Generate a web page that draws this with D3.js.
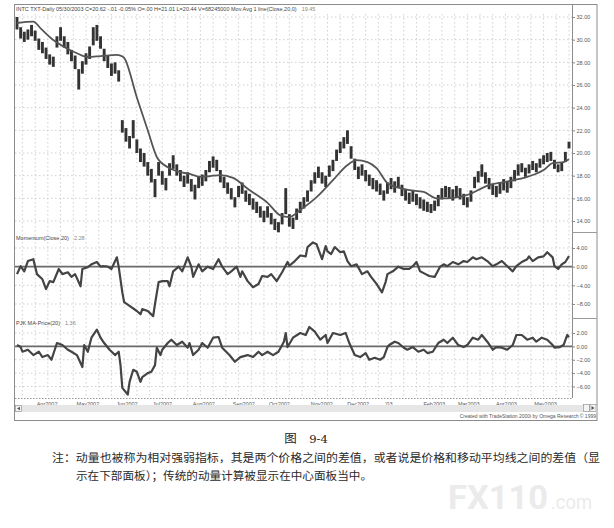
<!DOCTYPE html>
<html>
<head>
<meta charset="utf-8">
<title>INTC Momentum</title>
<script src="https://d3js.org/d3.v7.min.js"></script>
<style>
  body { margin: 0; background: #fff; }
  svg { display: block; }
</style>
</head>
<body>
<div id="chart"></div>
<script>
// daily bars, one every 2 trading days (day 0 = mid March 2002, last = 05/30/2003)
const barHigh = [
  32.0,31.1,30.7,30.9,31.3,30.8,30.1,29.8,29.3,28.7,
  28.5,30.3,31.1,30.3,29.8,29.1,28.6,27.4,28.1,28.8,
  29.4,31.1,31.3,30.3,29.2,28.6,27.9,28.0,27.3,22.9,
  22.2,21.5,22.9,21.2,20.4,20.0,19.2,18.6,17.7,19.2,
  18.4,17.8,19.1,19.8,19.0,18.5,18.0,18.3,17.7,17.2,
  17.9,18.1,18.5,19.3,19.7,19.4,18.5,17.9,17.4,
  16.9,16.1,17.1,17.4,16.7,16.4,16.0,15.7,15.3,14.9,
  15.3,14.7,14.2,13.9,14.7,16.9,14.6,14.3,15.1,15.7,
  16.1,16.7,17.6,18.3,18.8,18.3,18.0,18.9,19.4,20.3,
  21.0,21.4,22.0,20.6,19.5,18.8,19.0,18.5,18.1,17.8,
  17.6,17.3,16.7,17.4,17.8,17.5,17.9,17.2,16.8,
  16.5,16.7,16.4,16.1,15.9,15.7,15.5,15.8,16.3,16.9,
  17.1,17.0,16.8,17.1,16.9,16.4,16.1,16.7,17.9,18.4,
  19.0,18.3,17.8,17.3,17.1,17.4,17.7,17.5,17.9,18.5,
  19.0,19.1,18.7,19.0,19.3,19.1,19.5,19.8,20.0,20.1,
  19.4,19.0,19.2,20.1,21.0
];
const barLow = [
  30.9,30.1,29.8,30.0,30.3,29.9,29.1,28.8,28.3,27.8,
  27.6,29.3,29.9,29.3,28.7,28.1,27.4,25.6,27.0,27.8,
  28.3,29.5,29.9,29.2,28.1,27.5,26.8,27.0,26.3,21.8,
  21.0,20.4,21.3,20.0,19.2,18.8,18.0,17.4,16.1,18.0,
  17.2,16.7,18.0,18.6,18.0,17.5,17.0,17.3,16.6,15.9,
  16.9,17.1,17.5,18.3,18.7,18.4,17.4,16.9,16.4,
  15.9,15.2,16.1,16.4,15.7,15.4,15.0,14.7,14.3,13.9,
  14.3,13.7,13.2,13.0,13.7,14.6,13.5,13.3,14.1,14.7,
  15.1,15.7,16.6,17.3,17.8,17.3,17.0,17.9,18.4,19.3,
  20.0,20.4,20.8,19.5,18.5,17.7,18.0,17.5,17.1,16.8,
  16.6,16.3,15.8,16.4,16.8,16.5,16.9,16.2,15.8,
  15.5,15.7,15.4,15.1,14.9,14.8,14.7,14.9,15.3,15.9,
  16.1,16.0,15.8,16.1,15.9,15.4,15.2,15.7,16.9,17.4,
  17.9,17.3,16.8,16.3,16.1,16.4,16.7,16.5,16.9,17.5,
  18.0,18.3,17.9,18.2,18.5,18.3,18.7,19.0,19.2,19.3,
  18.6,18.3,18.4,19.2,20.4
];

// Mov Avg 1 line(Close,20,0) : [day, value]
const movAvg = [
  [0,31.47],[9,31.6],[13,31.0],[20,29.97],[26,29.35],[33,28.8],[39,28.47],[46,28.55],
  [55,28.65],[57,28.6],[59,28.4],[66,24.9],[72,22.0],[77,19.65],[83,18.75],[88,18.4],
  [95,18.15],[101,17.9],[106,17.95],[112,18.05],[119,17.8],[128,16.73],[138,15.6],
  [145,14.5],[150,14.35],[156,14.97],[165,16.1],[174,17.6],[182,18.94],[187,19.38],
  [193,19.2],[198,18.67],[204,17.35],[211,16.9],[216,16.73],[224,16.56],[231,16.0],
  [237,16.0],[248,16.3],[260,17.17],[268,17.44],[279,17.8],[290,18.5],[295,19.1],
  [301,19.2],[304,19.45]
];

// Momentum(Close,20) : [day, value]
const momentum = [
  [0,-1.6],[2,0.1],[4,-1.0],[6,1.2],[9,1.6],[11,-1.6],[14,-2.7],[16,-4.8],[18,-3.1],[20,-3.3],
  [23,-0.5],[25,-1.6],[28,-1.2],[30,-2.2],[32,-1.6],[35,-4.2],[36,-0.5],[39,-0.1],[41,0.5],[44,1.0],
  [46,0],[47,0.1],[50,0],[52,-0.5],[55,2.0],[56,0],[58,-5.5],[59,-7.6],[62,-8.4],[66,-9.5],
  [68,-10.2],[69,-9.1],[72,-9.5],[75,-10.6],[76,-8.0],[78,-3.3],[80,-3.1],[83,-3.1],[84,-4.2],[86,-1.0],
  [89,0],[91,-1.0],[94,2.0],[96,0],[97,-2.2],[100,0.5],[102,-1.0],[105,0],[108,-0.5],[111,1.6],
  [113,0],[116,-1.6],[118,-1.0],[121,0],[123,-2.2],[124,-1.0],[127,-3.1],[130,-4.4],[133,-3.7],[135,-2.0],
  [138,-2.2],[140,-1.6],[143,-3.1],[146,-1.2],[149,1.0],[150,0.2],[153,1.2],[156,2.4],[159,2.2],[160,4.2],
  [163,5.2],[165,4.8],[168,1.6],[170,4.4],[171,3.3],[173,2.7],[175,4.2],[178,3.1],[180,3.3],[182,1.2],
  [184,0.1],[187,0.5],[190,-1.6],[193,-1.0],[195,-2.2],[198,-3.7],[201,-5.5],[203,-3.3],[204,-1.6],[207,-1.0],
  [210,0],[213,-0.5],[216,-0.5],[218,0.1],[220,1.0],[222,-1.0],[225,-1.6],[227,-2.0],[230,-2.2],[233,0],
  [235,0.5],[237,0.1],[240,1.0],[243,0.5],[246,1.2],[248,1.0],[251,2.0],[253,1.6],[256,2.0],[259,1.2],
  [262,0.1],[264,0.5],[267,1.2],[270,0.1],[273,-1.0],[275,0.1],[278,1.0],[281,1.6],[282,2.2],[284,1.2],
  [287,2.0],[290,2.2],[292,3.1],[295,2.0],[296,0.1],[298,-0.5],[300,0.5],[302,1.0],[304,2.28]
];

// PJK MA-Price(20) : [day, value]
const maPrice = [
  [0,0.2],[2,-0.1],[3,-0.8],[6,-0.5],[9,-1.3],[12,-0.8],[14,-1.6],[17,-1.3],[19,-2.0],[22,0.5],
  [25,0.2],[28,-0.5],[30,-0.8],[33,-1.3],[36,-3.1],[37,0.2],[39,-0.8],[41,1.3],[44,2.5],[46,1.3],
  [48,0.5],[51,-0.5],[54,-1.3],[56,-0.8],[57,-2.8],[58,-6.2],[61,-7.2],[62,-5.3],[64,-3.5],[66,-3.8],
  [68,-5.3],[69,-4.6],[72,-4.0],[74,-3.8],[76,-2.8],[77,-0.2],[79,-1.3],[80,-0.5],[83,0.5],[85,1.0],
  [88,0.2],[91,0.7],[94,-0.2],[95,0.5],[97,-1.3],[100,-0.5],[102,0.5],[105,-0.2],[108,1.3],[111,1.4],
  [113,-0.2],[117,-1.3],[120,-2.3],[123,-1.6],[127,-1.3],[130,-1.6],[133,-0.8],[135,-1.3],[138,-0.8],[141,-1.3],
  [144,-0.8],[147,0.7],[148,2.0],[149,-0.1],[152,1.3],[156,2.0],[159,1.7],[161,2.9],[164,2.2],[167,1.0],
  [170,1.7],[171,0.5],[174,2.0],[178,1.7],[181,2.0],[183,0.5],[186,-1.3],[189,-1.6],[192,-1.0],[194,-2.0],
  [197,-1.7],[200,-2.0],[202,-1.6],[204,-0.1],[205,0.2],[208,0.7],[210,0.5],[213,-0.2],[215,-0.5],[218,-0.1],
  [221,-0.8],[224,-0.5],[226,-1.0],[229,-0.8],[232,0.5],[235,1.0],[237,0.5],[240,1.3],[243,0.2],[246,-0.1],
  [248,0.2],[251,1.3],[254,1.0],[256,1.7],[259,0.7],[262,-0.5],[264,-0.1],[267,-0.2],[270,-0.5],[273,0.2],
  [275,1.7],[278,1.7],[281,1.0],[284,1.3],[286,0.7],[289,1.3],[292,1.0],[295,0.2],[296,-0.2],[299,-0.1],
  [301,0.2],[303,1.7],[304,1.36]
];

const monthDays = [10, 32, 54, 74, 96, 118, 138, 161, 181, 202, 223, 242, 263, 284];
const monthLabels = ["Apr2002","May2002","Jun2002","Jul2002","Aug2002","Sep2002","Oct2002",
                     "Nov2002","Dec2002","'03","Feb2003","Mar2003","Apr2003","May2003"];
const priceTicks = [14, 16, 18, 20, 22, 24, 26, 28, 30, 32];
const momTicks = [4, 0, -4, -8];
const pjkTicks = [2, 0, -2, -4, -6];

const headerText = "INTC TXT-Daily  05/30/2003  C=20.62  -.01  -0.05%  O=.00  H=21.01  L=20.44  V=68245000  Mov Avg 1 line(Close,20,0)";
const headerValue = "19.45";

// ---- layout
const W = 614, H = 528;
const plotL = 15, plotR = 572, frameR = 597, frameT = 4, axisY = 398, frameB = 420;
const font = '"Liberation Sans", Arial, sans-serif';

const svg = d3.select('#chart').append('svg')
    .attr('width', W).attr('height', H)
    .attr('font-family', font);

const x = d3.scaleLinear().domain([0, 304]).range([17, 569]);
const yPrice = d3.scaleLinear().domain([14, 32]).range([221, 17]);
const yMom = d3.scaleLinear().domain([-8, 4]).range([304, 248]);
const yPjk = d3.scaleLinear().domain([-6, 2]).range([386.5, 333]);
const fmt = d3.format('.2f');

// frame
svg.append('rect')
    .attr('x', 14.5).attr('y', frameT + 0.5)
    .attr('width', frameR - 14.5).attr('height', frameB - frameT)
    .attr('fill', '#fff').attr('stroke', '#8c8c8c');

// vertical dotted grid
const gridDays = d3.range(3, 305, 7);
svg.append('g').selectAll('line').data(gridDays).join('line')
    .attr('x1', d => x(d)).attr('x2', d => x(d))
    .attr('y1', frameT + 10).attr('y2', axisY)
    .attr('stroke', '#c4c4c4').attr('stroke-width', 0.8)
    .attr('stroke-dasharray', '1.5,2.5');

// horizontal dotted grid per panel
function hGrid(ticks, scale) {
  svg.append('g').selectAll('line').data(ticks).join('line')
      .attr('x1', plotL).attr('x2', plotR)
      .attr('y1', d => scale(d)).attr('y2', d => scale(d))
      .attr('stroke', '#c4c4c4').attr('stroke-width', 0.8)
      .attr('stroke-dasharray', '1.5,2.5');
}
hGrid(priceTicks, yPrice);
hGrid(momTicks.filter(d => d !== 0), yMom);
hGrid(pjkTicks.filter(d => d !== 0), yPjk);

// right axes
function rightAxis(scale, ticks) {
  svg.append('g')
      .attr('transform', `translate(${plotR},0)`)
      .call(d3.axisRight(scale).tickValues(ticks).tickSize(3).tickPadding(1.5).tickFormat(fmt))
      .call(g => g.select('.domain').remove())
      .call(g => g.attr('font-size', 5.5).attr('font-family', font))
      .call(g => g.selectAll('text').attr('fill', '#555'))
      .call(g => g.selectAll('line').attr('stroke', '#888'));
}
rightAxis(yPrice, priceTicks);
rightAxis(yMom, momTicks);
rightAxis(yPjk, pjkTicks);

// plot right edge and panel separators
svg.append('line').attr('x1', plotR + 0.5).attr('x2', plotR + 0.5)
    .attr('y1', frameT).attr('y2', axisY).attr('stroke', '#8c8c8c');
[232.5, 318.5].forEach(yy => {
  svg.append('line').attr('x1', plotR).attr('x2', frameR)
      .attr('y1', yy).attr('y2', yy).attr('stroke', '#9a9a9a');
});
svg.append('line').attr('x1', plotL).attr('x2', plotR)
    .attr('y1', axisY + 0.5).attr('y2', axisY + 0.5)
    .attr('stroke', '#999').attr('stroke-dasharray', '1.5,1.5');

// zero lines
svg.append('line').attr('x1', plotL).attr('x2', plotR)
    .attr('y1', yMom(0)).attr('y2', yMom(0)).attr('stroke', '#6a6a6a').attr('stroke-width', 1.6);
svg.append('line').attr('x1', plotL).attr('x2', plotR)
    .attr('y1', yPjk(0)).attr('y2', yPjk(0)).attr('stroke', '#6a6a6a').attr('stroke-width', 1.6);

// price bars
svg.append('g').selectAll('line').data(barHigh).join('line')
    .attr('x1', (d, i) => x(i * 2)).attr('x2', (d, i) => x(i * 2))
    .attr('y1', d => yPrice(d)).attr('y2', (d, i) => yPrice(barLow[i]))
    .attr('stroke', '#333').attr('stroke-width', 2.9);

// moving average
svg.append('path').datum(movAvg)
    .attr('d', d3.line().x(d => x(d[0])).y(d => yPrice(d[1])).curve(d3.curveMonotoneX))
    .attr('fill', 'none').attr('stroke', '#555').attr('stroke-width', 1.8);

// indicator lines
svg.append('path').datum(momentum)
    .attr('d', d3.line().x(d => x(d[0])).y(d => yMom(d[1])))
    .attr('fill', 'none').attr('stroke', '#444').attr('stroke-width', 2.2)
    .attr('stroke-linejoin', 'round');
svg.append('path').datum(maPrice)
    .attr('d', d3.line().x(d => x(d[0])).y(d => yPjk(d[1])))
    .attr('fill', 'none').attr('stroke', '#444').attr('stroke-width', 2.2)
    .attr('stroke-linejoin', 'round');

// panel titles: name, then current value in grey right after it
function panelTitle(yy, name, value) {
  const t = svg.append('text').attr('x', 16).attr('y', yy)
      .attr('font-size', 5.5).attr('fill', '#444').text(name);
  const w = t.node().getComputedTextLength();
  svg.append('text').attr('x', 16 + w + 5).attr('y', yy)
      .attr('font-size', 5.5).attr('fill', '#888').text(value);
}
panelTitle(11, headerText, headerValue);
panelTitle(240, 'Momentum(Close,20)', fmt(momentum[momentum.length - 1][1]));
panelTitle(325, 'PJK MA-Price(20)', fmt(maPrice[maPrice.length - 1][1]));

// month axis
svg.append('g')
    .attr('transform', `translate(0,${axisY})`)
    .call(d3.axisBottom(x).tickValues(monthDays).tickSize(0).tickPadding(4)
        .tickFormat((d, i) => monthLabels[i]))
    .call(g => g.select('.domain').remove())
    .call(g => g.attr('font-size', 5.5).attr('font-family', font))
    .call(g => g.selectAll('text').attr('text-anchor', 'start').attr('dx', 1).attr('fill', '#555'));

// scroll bar
svg.append('rect').attr('x', 15).attr('y', 405).attr('width', frameR - 15).attr('height', 7)
    .attr('fill', '#e6e6e6');
svg.append('rect').attr('x', 15.5).attr('y', 405.5).attr('width', 6).attr('height', 6)
    .attr('fill', '#f4f4f4').attr('stroke', '#888').attr('stroke-width', 0.6);
svg.append('path').attr('d', 'M20,406.8 L17,408.5 L20,410.2 Z').attr('fill', '#555');
svg.append('rect').attr('x', 583.5).attr('y', 404.5).attr('width', 6).attr('height', 7)
    .attr('fill', '#f4f4f4').attr('stroke', '#888').attr('stroke-width', 0.6);
svg.append('rect').attr('x', 590).attr('y', 404.5).attr('width', 6).attr('height', 7)
    .attr('fill', '#f4f4f4').attr('stroke', '#888').attr('stroke-width', 0.6);
svg.append('path').attr('d', 'M591.5,406 L594.5,408 L591.5,410 Z').attr('fill', '#555');
svg.append('text').attr('x', 596).attr('y', 417.5).attr('text-anchor', 'end')
    .attr('font-size', 5).attr('fill', '#555')
    .text('Created with TradeStation 2000i by Omega Research \u00A9 1999');

// caption
svg.append('text').attr('x', 306).attr('y', 443).attr('text-anchor', 'middle')
    .attr('font-size', 12.5).attr('fill', '#222')
    .attr('font-family', '"Noto Sans CJK SC", sans-serif')
    .text('图\u2003').append('tspan').attr('font-family', '"DejaVu Serif", serif').attr('font-size', 11.5).text('9-4');

const capFont = '"Noto Sans CJK SC", sans-serif';
svg.append('text').attr('x', 52).attr('y', 462).attr('font-size', 11.3)
    .attr('font-family', capFont).attr('fill', '#2a2a2a')
    .attr('textLength', 548).attr('lengthAdjust', 'spacingAndGlyphs')
    .text('注：动量也被称为相对强弱指标，其是两个价格之间的差值，或者说是价格和移动平均线之间的差值（显');
svg.append('text').attr('x', 76).attr('y', 480).attr('font-size', 11.3)
    .attr('font-family', capFont).attr('fill', '#2a2a2a')
    .attr('textLength', 296).attr('lengthAdjust', 'spacingAndGlyphs')
    .text('示在下部面板）；传统的动量计算被显示在中心面板当中。');

// watermark
svg.append('text').attr('x', 448).attr('y', 509).attr('font-size', 33).attr('font-weight', 'bold')
    .attr('font-family', 'Roboto, "DejaVu Sans", sans-serif').attr('fill', '#ebebeb')
    .attr('textLength', 100).attr('lengthAdjust', 'spacingAndGlyphs').text('FX110');
svg.append('text').attr('x', 551).attr('y', 509).attr('font-size', 21)
    .attr('font-family', 'Roboto, "DejaVu Sans", sans-serif').attr('fill', '#ebebeb')
    .attr('textLength', 41).attr('lengthAdjust', 'spacingAndGlyphs').text('.com');
</script>
</body>
</html>
